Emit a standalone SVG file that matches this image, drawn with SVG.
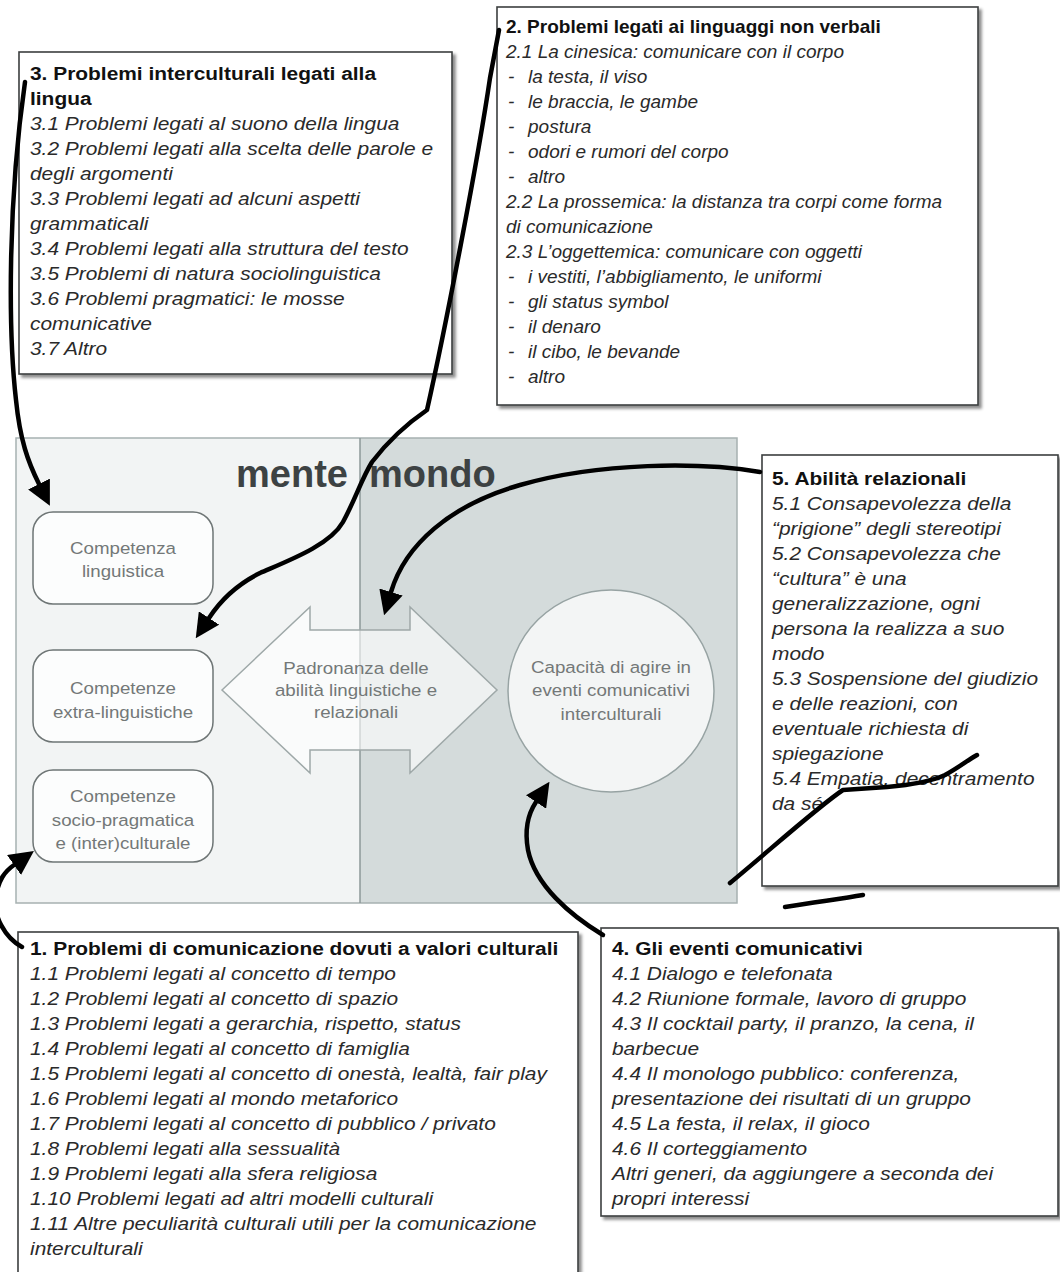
<svg xmlns="http://www.w3.org/2000/svg" width="1060" height="1272" viewBox="0 0 1060 1272">
  <style>
    .box { fill: #ffffff; stroke: #3c3f40; stroke-width: 1.6; filter: url(#shadow); }
    .t { font-family: "Liberation Sans", Arial, sans-serif; font-size: 19px; fill: #2a2a2a; font-style: italic; }
    .h { font-family: "Liberation Sans", Arial, sans-serif; font-size: 19px; fill: #111; font-weight: bold; }
    .lbl { font-family: "Liberation Sans", Arial, sans-serif; font-size: 17px; fill: #737878; text-anchor: middle; }
    .big { font-family: "Liberation Sans", Arial, sans-serif; font-size: 38px; font-weight: bold; fill: #3d4243; }
    .comp { fill: #fcfdfd; stroke: #6e7575; stroke-width: 1.5; }
    .wire { fill: none; stroke: #000; stroke-width: 4.5; stroke-linecap: round; stroke-linejoin: round; }
    .arrow { marker-end: url(#head); }
  </style>
  <defs>
    <filter id="shadow" x="-5%" y="-5%" width="112%" height="112%">
      <feDropShadow dx="3" dy="3" stdDeviation="1.6" flood-color="#000" flood-opacity="0.45"/>
    </filter>
    <marker id="head" viewBox="0 0 10 10" refX="0" refY="5" markerWidth="5.4" markerHeight="5.4" orient="auto" markerUnits="strokeWidth" preserveAspectRatio="none">
      <path d="M0,0 L10,5 L0,10 Z" fill="#000"/>
    </marker>
  </defs>

  <rect width="1060" height="1272" fill="#ffffff"/>

  <!-- central panel: mente / mondo -->
  <g id="panel">
    <rect x="16" y="438" width="344" height="465" fill="#f2f4f4"/>
    <rect x="360" y="438" width="377" height="465" fill="#d4dbdb"/>
    <rect x="16" y="438" width="721" height="465" fill="none" stroke="#a7b1b1" stroke-width="1.5"/>
    <line x1="360" y1="438" x2="360" y2="903" stroke="#8d9999" stroke-width="1.5"/>
    <text class="big" x="348" y="487" text-anchor="end">mente</text>
    <text class="big" x="369" y="487">mondo</text>
  </g>

  <g id="node-ling">
    <rect class="comp" x="33" y="512" width="180" height="92" rx="20"/>
    <g transform="translate(123 0) scale(1.1 1)">
      <text class="lbl" x="0" y="554">Competenza</text>
      <text class="lbl" x="0" y="577">linguistica</text>
    </g>
  </g>

  <g id="node-extra">
    <rect class="comp" x="33" y="650" width="180" height="92" rx="20"/>
    <g transform="translate(123 0) scale(1.1 1)">
      <text class="lbl" x="0" y="694">Competenze</text>
      <text class="lbl" x="0" y="718">extra-linguistiche</text>
    </g>
  </g>

  <g id="node-socio">
    <rect class="comp" x="33" y="770" width="180" height="92" rx="20"/>
    <g transform="translate(123 0) scale(1.1 1)">
      <text class="lbl" x="0" y="802">Competenze</text>
      <text class="lbl" x="0" y="826">socio-pragmatica</text>
      <text class="lbl" x="0" y="849">e (inter)culturale</text>
    </g>
  </g>

  <g id="node-padronanza">
    <path d="M222,690 L310,607 L310,630 L410,630 L410,607 L497,690 L410,773 L410,750 L310,750 L310,773 Z" fill="#ffffff" fill-opacity="0.6" stroke="#9ea8a8" stroke-width="1.5"/>
    <g transform="translate(356 0) scale(1.1 1)">
      <text class="lbl" x="0" y="674">Padronanza delle</text>
      <text class="lbl" x="0" y="696">abilità linguistiche e</text>
      <text class="lbl" x="0" y="718">relazionali</text>
    </g>
  </g>

  <g id="node-capacita">
    <ellipse cx="611" cy="691" rx="103" ry="101" fill="#f3f5f5" stroke="#97a3a3" stroke-width="1.5"/>
    <g transform="translate(611 0) scale(1.1 1)">
      <text class="lbl" x="0" y="673">Capacità di agire in</text>
      <text class="lbl" x="0" y="696">eventi comunicativi</text>
      <text class="lbl" x="0" y="720">interculturali</text>
    </g>
  </g>

  <!-- 3. language problems -->
  <g id="box-3">
    <rect class="box" x="19" y="52" width="433" height="322"/>
    <g transform="translate(30 0) scale(1.1 1)">
      <text class="h" x="0" y="80">3. Problemi interculturali legati alla</text>
      <text class="h" x="0" y="105">lingua</text>
      <text class="t" x="0" y="130">3.1 Problemi legati al suono della lingua</text>
      <text class="t" x="0" y="155">3.2 Problemi legati alla scelta delle parole e</text>
      <text class="t" x="0" y="180">degli argomenti</text>
      <text class="t" x="0" y="205">3.3 Problemi legati ad alcuni aspetti</text>
      <text class="t" x="0" y="230">grammaticali</text>
      <text class="t" x="0" y="255">3.4 Problemi legati alla struttura del testo</text>
      <text class="t" x="0" y="280">3.5 Problemi di natura sociolinguistica</text>
      <text class="t" x="0" y="305">3.6 Problemi pragmatici: le mosse</text>
      <text class="t" x="0" y="330">comunicative</text>
      <text class="t" x="0" y="355">3.7 Altro</text>
    </g>
  </g>

  <!-- 2. non-verbal languages -->
  <g id="box-2">
    <rect class="box" x="497" y="7" width="481" height="398"/>
    <text class="h" x="506" y="33">2. Problemi legati ai linguaggi non verbali</text>
    <text class="t" x="506" y="58">2.1 La cinesica: comunicare con il corpo</text>
    <text class="t" x="508" y="83">-</text><text class="t" x="528" y="83">la testa, il viso</text>
    <text class="t" x="508" y="108">-</text><text class="t" x="528" y="108">le braccia, le gambe</text>
    <text class="t" x="508" y="133">-</text><text class="t" x="528" y="133">postura</text>
    <text class="t" x="508" y="158">-</text><text class="t" x="528" y="158">odori e rumori del corpo</text>
    <text class="t" x="508" y="183">-</text><text class="t" x="528" y="183">altro</text>
    <text class="t" x="506" y="208">2.2 La prossemica: la distanza tra corpi come forma</text>
    <text class="t" x="506" y="233">di comunicazione</text>
    <text class="t" x="506" y="258">2.3 L’oggettemica: comunicare con oggetti</text>
    <text class="t" x="508" y="283">-</text><text class="t" x="528" y="283">i vestiti, l’abbigliamento, le uniformi</text>
    <text class="t" x="508" y="308">-</text><text class="t" x="528" y="308">gli status symbol</text>
    <text class="t" x="508" y="333">-</text><text class="t" x="528" y="333">il denaro</text>
    <text class="t" x="508" y="358">-</text><text class="t" x="528" y="358">il cibo, le bevande</text>
    <text class="t" x="508" y="383">-</text><text class="t" x="528" y="383">altro</text>
  </g>

  <!-- 5. relational skills -->
  <g id="box-5">
    <rect class="box" x="762" y="455" width="296" height="431"/>
    <g transform="translate(772 0) scale(1.1 1)">
      <text class="h" x="0" y="485">5. Abilità relazionali</text>
      <text class="t" x="0" y="510">5.1 Consapevolezza della</text>
      <text class="t" x="0" y="535">“prigione” degli stereotipi</text>
      <text class="t" x="0" y="560">5.2 Consapevolezza che</text>
      <text class="t" x="0" y="585">“cultura” è una</text>
      <text class="t" x="0" y="610">generalizzazione, ogni</text>
      <text class="t" x="0" y="635">persona la realizza a suo</text>
      <text class="t" x="0" y="660">modo</text>
      <text class="t" x="0" y="685">5.3 Sospensione del giudizio</text>
      <text class="t" x="0" y="710">e delle reazioni, con</text>
      <text class="t" x="0" y="735">eventuale richiesta di</text>
      <text class="t" x="0" y="760">spiegazione</text>
      <text class="t" x="0" y="785">5.4 Empatia, decentramento</text>
      <text class="t" x="0" y="810">da sé</text>
    </g>
  </g>

  <!-- 1. cultural values -->
  <g id="box-1">
    <rect class="box" x="18" y="932" width="560" height="360"/>
    <g transform="translate(30 0) scale(1.1 1)">
      <text class="h" x="0" y="955">1. Problemi di comunicazione dovuti a valori culturali</text>
      <text class="t" x="0" y="980">1.1 Problemi legati al concetto di tempo</text>
      <text class="t" x="0" y="1005">1.2 Problemi legati al concetto di spazio</text>
      <text class="t" x="0" y="1030">1.3 Problemi legati a gerarchia, rispetto, status</text>
      <text class="t" x="0" y="1055">1.4 Problemi legati al concetto di famiglia</text>
      <text class="t" x="0" y="1080">1.5 Problemi legati al concetto di onestà, lealtà, fair play</text>
      <text class="t" x="0" y="1105">1.6 Problemi legati al mondo metaforico</text>
      <text class="t" x="0" y="1130">1.7 Problemi legati al concetto di pubblico / privato</text>
      <text class="t" x="0" y="1155">1.8 Problemi legati alla sessualità</text>
      <text class="t" x="0" y="1180">1.9 Problemi legati alla sfera religiosa</text>
      <text class="t" x="0" y="1205">1.10 Problemi legati ad altri modelli culturali</text>
      <text class="t" x="0" y="1230">1.11 Altre peculiarità culturali utili per la comunicazione</text>
      <text class="t" x="0" y="1255">interculturali</text>
    </g>
  </g>

  <!-- 4. communicative events -->
  <g id="box-4">
    <rect class="box" x="601" y="928" width="457" height="288"/>
    <g transform="translate(612 0) scale(1.1 1)">
      <text class="h" x="0" y="955">4. Gli eventi comunicativi</text>
      <text class="t" x="0" y="980">4.1 Dialogo e telefonata</text>
      <text class="t" x="0" y="1005">4.2 Riunione formale, lavoro di gruppo</text>
      <text class="t" x="0" y="1030">4.3 Il cocktail party, il pranzo, la cena, il</text>
      <text class="t" x="0" y="1055">barbecue</text>
      <text class="t" x="0" y="1080">4.4 Il monologo pubblico: conferenza,</text>
      <text class="t" x="0" y="1105">presentazione dei risultati di un gruppo</text>
      <text class="t" x="0" y="1130">4.5 La festa, il relax, il gioco</text>
      <text class="t" x="0" y="1155">4.6 Il corteggiamento</text>
      <text class="t" x="0" y="1180">Altri generi, da aggiungere a seconda dei</text>
      <text class="t" x="0" y="1205">propri interessi</text>
    </g>
  </g>

  <!-- hand-drawn connectors -->
  <g id="connectors">
    <path class="wire arrow" d="M25,82 C8,200 8,330 16,400 C20,440 28,462 39,484"/>
    <path class="wire arrow" d="M499,30 L490,78 C478,160 445,330 427,410 C405,425 385,445 372,462 C362,478 355,500 343,522 C330,545 290,560 260,573 C240,583 222,598 209,618"/>
    <path class="wire arrow" d="M760,472 C700,462 600,462 520,485 C450,505 405,545 391,592"/>
    <path class="wire arrow" d="M603,935 C570,915 535,885 528,850 C524,828 528,814 536,802"/>
    <path class="wire arrow" d="M22,947 C5,938 -8,915 -4,895 C-1,880 4,872 14,865"/>
    <path class="wire" d="M730,883 C770,850 820,805 843,790 L887,787 C910,785 930,782 945,775 C958,768 968,760 977,755"/>
    <path class="wire" d="M785,907 C815,902 840,899 863,895"/>
  </g>
</svg>
